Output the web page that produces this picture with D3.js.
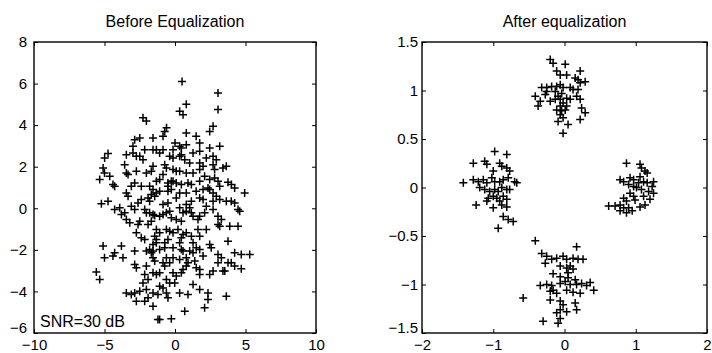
<!DOCTYPE html>
<html>
<head>
<meta charset="utf-8">
<script src="https://cdn.jsdelivr.net/npm/d3@7/dist/d3.min.js"></script>
<style>
  body { margin: 0; background: #fff; }
  svg { display: block; }
  text { font-family: "Liberation Sans", Arial, Helvetica, sans-serif; fill: #000; }
</style>
</head>
<body>
<div id="chart"></div>
<script>
// titles and tick values
const titles = ['Before Equalization', 'After equalization'];
const snrLabel = 'SNR=30 dB';
const beforeXTicks = [-10, -5, 0, 5, 10];
const beforeYTicks = [-6, -4, -2, 0, 2, 4, 6, 8];
const afterXTicks = [-2, -1, 0, 1, 2];
const afterYTicks = [-1.5, -1, -0.5, 0, 0.5, 1, 1.5];

// received symbols before equalization
const beforePoints = [
  [0.5, 6.1], [3.05, 5.55], [0.8, 5.0], [0.33, 4.67], [0.57, 4.5], [3.05, 4.75],
  [-2.27, 4.35], [-2.03, 4.2], [2.7, 3.95], [2.46, 3.7], [-0.6, 3.87], [-0.73, 3.7],
  [0.8, 3.62], [1.5, 3.46], [-1.56, 3.38], [-2.5, 3.38], [-2.86, 3.3], [-0.85, 3.46],
  [0, 3.14], [0.33, 2.98], [0.45, 2.9], [0.8, 3.06], [1.75, 3.14], [2.46, 2.9],
  [3.17, 2.98], [-1.56, 2.82], [-1.32, 2.82], [-2.15, 2.82], [-2.98, 2.98], [-0.14, 2.82],
  [1.28, 2.66], [1.75, 2.74], [-0.85, 2.82], [-1.09, 2.66], [-3.45, 2.58], [-2.98, 2.66],
  [-2.74, 2.5], [-4.75, 2.63], [-4.99, 2.42], [2.7, 2.5], [2.93, 2.34], [-0.38, 2.5],
  [-0.14, 2.42], [0.45, 2.58], [2.22, 2.42], [1.04, 2.18], [-3.57, 2.1], [-5.1, 1.94],
  [-5.0, 1.7], [-0.73, 2.1], [-0.61, 1.94], [-1.56, 2.02], [2.7, 2.1], [2.81, 1.86],
  [3.4, 1.94], [3.64, 2.02], [-0.14, 1.86], [0.09, 1.78], [0.33, 1.78], [0.8, 1.7],
  [1.28, 1.7], [1.75, 1.86], [-2.74, 1.78], [-3.33, 1.62], [-3.45, 1.7], [-2.03, 1.7],
  [-1.68, 1.78], [-0.85, 1.62], [-5.34, 1.38], [-4.63, 1.54], [2.1, 1.54], [2.46, 1.38],
  [2.81, 1.46], [3.05, 1.3], [-4.4, 1.14], [-4.28, 1.06], [0.92, 1.22], [1.16, 1.14],
  [1.75, 1.3], [3.76, 1.25], [4.0, 1.14], [-2.86, 1.22], [-3.1, 1.06], [-0.5, 1.22],
  [-0.26, 1.3], [0.45, 1.14], [-2.39, 1.06], [2.34, 0.98], [2.46, 0.9], [3.17, 1.06],
  [4.23, 0.98], [4.94, 0.74], [1.99, 0.9], [-1.09, 0.82], [-1.32, 0.74], [-0.5, 0.82],
  [0.33, 0.74], [0.8, 0.74], [1.5, 0.82], [-3.45, 0.74], [-3.33, 0.58], [-1.68, 0.66],
  [-1.44, 0.58], [0.09, 0.5], [1.75, 0.5], [1.99, 0.42], [1.16, 0.34], [2.7, 0.34],
  [3.64, 0.34], [3.99, 0.34], [4.23, 0.26], [-4.75, 0.34], [-5.22, 0.22], [3.17, 0.42],
  [-0.5, 0.26], [-0.85, 0.18], [-3.92, 0.02], [-4.28, -0.06], [-3.1, 0.1], [-2.86, -0.06],
  [0.8, 0.18], [1.04, 0.02], [0.33, 0.02], [4.47, -0.06], [4.59, -0.14], [2.7, -0.06],
  [-1.8, -0.22], [-1.56, -0.3], [-1.44, -0.35], [-3.57, -0.22], [-3.8, -0.3], [-1.09, -0.38],
  [-0.85, -0.3], [1.16, -0.22], [1.28, -0.38], [1.75, -0.38], [1.63, -0.54], [3.05, -0.38],
  [3.29, -0.54], [-3.45, -0.54], [-3.21, -0.7], [-2.5, -0.62], [-2.62, -0.78], [-0.26, -0.46],
  [0.09, -0.54], [0.45, -0.62], [-1.68, -0.62], [-1.91, -0.78], [3.05, -0.78], [3.17, -0.86],
  [3.88, -0.86], [4.47, -0.86], [-0.61, -1.02], [-0.38, -1.1], [-0.14, -1.18], [1.63, -1.02],
  [0.21, -1.02], [0.57, -1.26], [0.45, -1.42], [-2.39, -1.42], [-2.15, -1.5], [-1.44, -1.34],
  [-1.32, -1.5], [-0.5, -1.5], [-0.73, -1.66], [1.75, -1.34], [3.76, -1.58], [-1.56, -1.74],
  [-1.32, -1.66], [0.33, -1.66], [-5.1, -1.82], [-5.0, -2.38], [-4.28, -2.14], [-4.4, -2.3],
  [-3.8, -1.82], [-3.69, -2.38], [1.51, -1.9], [1.75, -1.98], [2.46, -1.74], [2.57, -1.9],
  [-2.86, -2.06], [-2.03, -2.06], [-1.8, -1.98], [-1.68, -2.14], [-1.56, -2.06], [-1.09, -1.98],
  [-0.73, -1.9], [-0.14, -1.9], [0.45, -1.98], [0.57, -2.06], [1.04, -2.06], [1.28, -2.14],
  [1.99, -2.3], [3.05, -2.22], [3.29, -2.38], [4.23, -2.14], [4.7, -2.22], [5.3, -2.22],
  [3.99, -2.62], [4.23, -2.78], [3.76, -2.62], [4.7, -2.91], [3.05, -2.62], [-0.14, -2.38],
  [0.33, -2.46], [0.8, -2.38], [0.92, -2.62], [1.4, -2.54], [-1.56, -2.38], [-1.44, -2.54],
  [-2.86, -2.7], [-2.74, -2.86], [-2.03, -2.78], [-2.15, -3.18], [-0.85, -2.62], [-0.73, -2.78],
  [1.51, -2.86], [1.75, -2.94], [2.7, -3.02], [3.53, -3.02], [0.8, -2.78], [0.57, -2.94],
  [-5.58, -3.07], [-5.34, -3.43], [-0.14, -3.1], [0.09, -3.26], [0.45, -3.1], [-1.56, -3.1],
  [-1.32, -3.18], [-1.09, -3.1], [1.75, -3.18], [2.46, -3.18], [3.4, -3.02], [-0.02, -3.59],
  [-1.91, -3.43], [-2.27, -3.59], [-0.61, -3.43], [-0.38, -3.59], [1.28, -3.67], [-1.09, -3.75],
  [-0.85, -3.83], [1.75, -3.91], [2.34, -4.07], [-3.45, -4.07], [-3.1, -4.15], [-2.86, -4.07],
  [-2.5, -3.99], [-2.03, -3.91], [-1.56, -4.07], [-1.21, -4.15], [-0.61, -4.07], [-0.5, -4.31],
  [0.33, -4.07], [0.92, -4.15], [3.64, -4.23], [-2.74, -4.47], [-2.15, -4.47], [-1.91, -4.31],
  [2.34, -4.39], [2.1, -4.79], [-1.56, -4.71], [0.69, -4.95], [-1.21, -5.35], [-1.09, -5.35],
  [-0.26, -5.32], [-0.14, 1.3], [0.09, 1.22], [-0.5, 1.06], [-0.26, 0.9], [-1.32, 1.3],
  [-1.09, 1.38], [-1.91, 0.5], [-1.8, 0.34], [-2.15, -0.06], [-2.03, -0.22], [-0.61, -0.22],
  [-0.38, -0.14], [0.57, -0.22], [0.8, -0.14], [2.22, 0.1], [2.1, -0.22], [-1.32, -1.02],
  [-1.09, -1.18], [0.8, -1.18], [1.16, -1.34], [-2.74, -1.18], [2.22, -1.02], [-0.61, -2.38],
  [-0.38, -2.62], [1.28, -1.66], [-2.5, 2.5], [-2.27, 2.34], [0.33, 2.5], [0.69, 2.34],
  [1.75, 2.18], [1.99, 2.02], [-1.8, 1.06], [-1.56, 0.9], [-2.39, 0.42], [-2.62, 0.26],
  [2.7, 0.74], [2.93, 0.58]
];

// symbols after equalization, four clusters
const afterPoints = [
  // top cluster
  [-0.2, 1.32], [-0.16, 1.28], [0.01, 1.27], [-0.11, 1.2], [-0.06, 1.16], [0.22, 1.2],
  [0.03, 1.16], [0.15, 1.13], [0.19, 1.11], [0.29, 1.09], [-0.32, 1.03], [-0.25, 1.03],
  [-0.18, 1.04], [-0.11, 1.04], [-0.06, 1.06], [-0.02, 1.03], [-0.04, 0.97], [0.08, 1.03],
  [0.12, 1.01], [0.22, 1.08], [0.19, 1.01], [-0.41, 0.94], [-0.34, 0.89], [-0.37, 0.84],
  [-0.27, 0.96], [-0.2, 0.89], [-0.13, 0.91], [-0.09, 0.94], [-0.06, 0.91], [-0.02, 0.87],
  [0.03, 0.92], [0.08, 0.91], [0.17, 0.94], [0.22, 0.91], [-0.06, 0.84], [-0.11, 0.8],
  [-0.04, 0.79], [0.24, 0.82], [0.29, 0.77], [-0.06, 0.75], [-0.02, 0.72], [0.03, 0.84],
  [0.01, 0.8], [0.22, 0.7], [-0.09, 0.68], [0.05, 0.65], [-0.02, 0.56], [-0.13, 0.99],
  [-0.25, 0.99],
  // left cluster
  [-0.98, 0.37], [-0.81, 0.34], [-1.28, 0.25], [-1.12, 0.27], [-1.09, 0.24], [-0.91, 0.25],
  [-0.88, 0.22], [-0.81, 0.2], [-0.77, 0.17], [-1.0, 0.17], [-1.42, 0.05], [-1.28, 0.08],
  [-1.21, 0.06], [-1.14, 0.08], [-1.09, 0.05], [-1.02, 0.1], [-0.98, 0.06], [-0.91, 0.06],
  [-0.86, 0.08], [-0.79, 0.1], [-0.7, 0.06], [-0.67, 0.05], [-1.19, 0.0], [-1.12, -0.02],
  [-1.05, -0.04], [-0.98, -0.02], [-0.93, -0.04], [-0.88, 0.0], [-0.81, -0.02], [-0.77, -0.02],
  [-1.07, -0.11], [-1.0, -0.09], [-0.95, -0.11], [-0.86, -0.09], [-0.81, -0.12], [-1.24, -0.18],
  [-1.09, -0.14], [-0.91, -0.14], [-0.88, -0.18], [-1.0, -0.21], [-0.81, -0.2], [-0.86, -0.3],
  [-0.79, -0.33], [-0.72, -0.35], [-0.93, -0.42],
  // right cluster
  [0.87, 0.25], [1.06, 0.24], [1.08, 0.2], [1.16, 0.15], [1.13, 0.17], [0.78, 0.08],
  [0.83, 0.06], [0.92, 0.1], [0.97, 0.08], [1.06, 0.11], [1.04, 0.05], [1.11, 0.06],
  [1.16, 0.05], [1.25, 0.06], [1.23, 0.01], [0.9, 0.03], [0.97, 0.01], [1.01, 0.0],
  [1.08, -0.02], [1.18, -0.04], [1.25, -0.06], [0.92, -0.06], [0.97, -0.09], [1.11, -0.09],
  [1.2, -0.12], [0.83, -0.11], [0.87, -0.14], [0.62, -0.19], [0.71, -0.19], [0.78, -0.18],
  [0.83, -0.21], [0.78, -0.24], [0.9, -0.21], [0.95, -0.24], [1.06, -0.2], [1.13, -0.18],
  [0.99, -0.13], [0.87, -0.26],
  // bottom cluster
  [-0.41, -0.55], [0.17, -0.61], [-0.32, -0.68], [-0.25, -0.71], [-0.18, -0.74], [-0.11, -0.73],
  [-0.02, -0.71], [0.03, -0.74], [0.12, -0.73], [0.19, -0.74], [0.26, -0.74], [-0.27, -0.78],
  [-0.06, -0.81], [0.03, -0.83], [0.12, -0.84], [-0.16, -0.89], [-0.06, -0.92], [0.05, -0.93],
  [0.15, -0.95], [0.36, -0.98], [-0.25, -1.0], [-0.18, -1.01], [-0.06, -0.99], [0.01, -0.97],
  [0.08, -1.0], [0.17, -1.0], [0.24, -0.99], [0.31, -1.01], [0.41, -1.06], [-0.34, -1.01],
  [-0.16, -1.06], [-0.11, -1.09], [0.03, -1.06], [0.12, -1.08], [0.22, -1.09], [-0.58, -1.14],
  [-0.06, -1.17], [-0.02, -1.21], [0.15, -1.19], [0.17, -1.26], [-0.06, -1.26], [-0.11, -1.29],
  [0.03, -1.28], [-0.06, -1.35], [-0.3, -1.38], [-0.09, -1.4], [-0.2, -1.07], [-0.2, -1.16],
  [0.08, -0.81], [0.05, -0.88]
];

const width = 712;
const height = 353;

const svg = d3.select('#chart')
  .append('svg')
  .attr('width', width)
  .attr('height', height);

const plus = 'M-4,0H4M0,-4V4';
const fmt = d3.format('~g');

const drawPanel = (cfg) => {
  const x = d3.scaleLinear().domain(cfg.xDomain).range([cfg.left, cfg.right]);
  const y = d3.scaleLinear().domain(cfg.yDomain).range([cfg.bottom, cfg.top]);
  const g = svg.append('g');

  // inward ticks on all four sides, labels only bottom and left
  g.append('g')
    .attr('class', 'x-axis')
    .attr('transform', `translate(0,${cfg.bottom})`)
    .call(d3.axisBottom(x).tickValues(cfg.xTicks).tickSizeInner(-4).tickSizeOuter(0).tickFormat(fmt));
  g.append('g')
    .attr('transform', `translate(0,${cfg.top})`)
    .call(d3.axisTop(x).tickValues(cfg.xTicks).tickSizeInner(-4).tickSizeOuter(0).tickFormat(''));
  const yAxis = g.append('g')
    .attr('class', 'y-axis')
    .attr('transform', `translate(${cfg.left},0)`)
    .call(d3.axisLeft(y).tickValues(cfg.yTicks).tickSizeInner(-4).tickSizeOuter(0).tickPadding(cfg.yPad).tickFormat(fmt));
  g.append('g')
    .attr('transform', `translate(${cfg.right},0)`)
    .call(d3.axisRight(y).tickValues(cfg.yTicks).tickSizeInner(-4).tickSizeOuter(0).tickFormat(''));

  g.selectAll('.domain').remove();
  g.selectAll('.tick line').attr('stroke', '#000').attr('stroke-width', 1);
  g.selectAll('.tick text')
    .attr('font-size', 15)
    .attr('font-family', '"Liberation Sans", Arial, sans-serif')
    .attr('fill', '#000');
  // keep bottom labels inside the picture
  g.selectAll('.x-axis .tick text')
    .attr('y', 16.7)
    .attr('dy', 0);
  // lift the lowest y label a little so it clears the x labels
  yAxis.selectAll('.tick text')
    .filter(d => d === cfg.yDomain[0])
    .attr('y', -5);

  // frame
  g.append('rect')
    .attr('x', cfg.left)
    .attr('y', cfg.top)
    .attr('width', cfg.right - cfg.left)
    .attr('height', cfg.bottom - cfg.top)
    .attr('fill', 'none')
    .attr('stroke', '#000')
    .attr('stroke-width', 1.4);

  g.append('g')
    .selectAll('path')
    .data(cfg.points)
    .enter()
    .append('path')
    .attr('d', plus)
    .attr('transform', d => `translate(${x(d[0])},${y(d[1])})`)
    .attr('fill', 'none')
    .attr('stroke', '#000')
    .attr('stroke-width', 1.5);

  g.append('text')
    .attr('x', (cfg.left + cfg.right) / 2)
    .attr('y', 27)
    .attr('text-anchor', 'middle')
    .attr('font-size', 16)
    .text(cfg.title);

  return {x, y, g};
};

const before = drawPanel({
  left: 34, right: 316, top: 42, bottom: 333,
  xDomain: [-10, 10], yDomain: [-6, 8],
  xTicks: beforeXTicks, yTicks: beforeYTicks, yPad: 7,
  points: beforePoints, title: titles[0]
});

drawPanel({
  left: 422, right: 707, top: 42, bottom: 333,
  xDomain: [-2, 2], yDomain: [-1.5, 1.5],
  xTicks: afterXTicks, yTicks: afterYTicks, yPad: 4,
  points: afterPoints, title: titles[1]
});

before.g.append('text')
  .attr('x', 40)
  .attr('y', 327)
  .attr('font-size', 16)
  .text(snrLabel);
</script>
</body>
</html>
